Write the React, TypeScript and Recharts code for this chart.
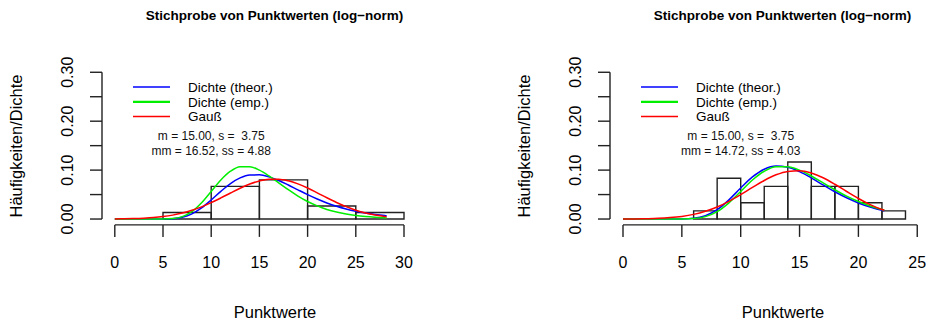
import React from 'react'
import { ComposedChart, Line, XAxis, YAxis, ReferenceArea, ReferenceLine } from 'recharts'

// two histograms of the same sample, each with the same three curves on top

const title = 'Stichprobe von Punktwerten (log−norm)'
const xTitle = 'Punktwerte'
const yTitle = 'Häufigkeiten/Dichte'
const legendNames = ['Dichte (theor.)', 'Dichte (emp.)', 'Gauß']
const legendColors = ['#0000ff', '#00ee00', '#ff0000']

const yTicks = [0, 0.05, 0.1, 0.15, 0.2, 0.25, 0.3]
// R drops every second label, they would overlap
const yLabelled = [0, 0.1, 0.2, 0.3]
const yTickLabels = ['0.00', '0.10', '0.20', '0.30']

// left panel: bins of width 5
const leftBreaks = [5, 10, 15, 20, 25, 30]
const leftDensity = [0.0133, 0.0667, 0.08, 0.0267, 0.0133]
const leftXTicks = [0, 5, 10, 15, 20, 25, 30]
const leftStats = ['m = 15.00, s =  3.75', 'mm = 16.52, ss = 4.88']
const leftCurveX = [0, 1, 2, 3, 4, 5, 6, 7, 8, 9, 10, 11, 12, 13, 14, 15, 16, 17, 18, 19, 20, 21, 22, 23, 24, 25, 26, 27, 28, 28.2]
const leftTheor = [0, 0, 0, 0, 0, 0.0001, 0.0008, 0.0037, 0.0106, 0.0227, 0.0389, 0.0566, 0.0725, 0.084, 0.0899, 0.0903, 0.0862, 0.0788, 0.0695, 0.0596, 0.0499, 0.0409, 0.0329, 0.0261, 0.0205, 0.0159, 0.0122, 0.0094, 0.0071, 0.0067]
const leftEmp = [0, 0, 0, 0, 0, 0.0001, 0.001, 0.0049, 0.0151, 0.0331, 0.0564, 0.0798, 0.0977, 0.1069, 0.107, 0.0999, 0.088, 0.074, 0.0599, 0.0469, 0.0358, 0.0268, 0.0196, 0.0142, 0.0101, 0.0071, 0.005, 0.0035, 0.0024, 0.0022]
const leftGauss = [0.0003, 0.0005, 0.001, 0.0018, 0.003, 0.005, 0.008, 0.0122, 0.0178, 0.0249, 0.0335, 0.0431, 0.0532, 0.063, 0.0715, 0.0779, 0.0813, 0.0814, 0.0781, 0.0718, 0.0634, 0.0536, 0.0435, 0.0339, 0.0253, 0.0181, 0.0124, 0.0081, 0.0051, 0.0047]

// right panel: bins of width 2
const rightBreaks = [6, 8, 10, 12, 14, 16, 18, 20, 22, 24]
const rightDensity = [0.0167, 0.0833, 0.0333, 0.0667, 0.1167, 0.0667, 0.0667, 0.0333, 0.0167]
const rightXTicks = [0, 5, 10, 15, 20, 25]
const rightStats = ['m = 15.00, s =  3.75', 'mm = 14.72, ss = 4.03']
const rightCurveX = [0, 1, 2, 3, 4, 5, 6, 7, 8, 9, 10, 11, 12, 13, 14, 15, 16, 17, 18, 19, 20, 21, 22, 22.2]
const rightTheor = [0, 0, 0, 0, 0, 0.0002, 0.0015, 0.0067, 0.019, 0.0392, 0.0634, 0.086, 0.1017, 0.1082, 0.1059, 0.0969, 0.084, 0.0697, 0.0558, 0.0434, 0.0329, 0.0245, 0.0179, 0.0169]
const rightEmp = [0, 0, 0, 0, 0, 0.0001, 0.001, 0.0049, 0.0151, 0.0331, 0.0564, 0.0798, 0.0977, 0.1069, 0.107, 0.0999, 0.088, 0.074, 0.0599, 0.0469, 0.0358, 0.0268, 0.0196, 0.0185]
const rightGauss = [0.0001, 0.0003, 0.0007, 0.0014, 0.0029, 0.0054, 0.0095, 0.0158, 0.0246, 0.0362, 0.0499, 0.0646, 0.0788, 0.0904, 0.0974, 0.0988, 0.0941, 0.0844, 0.0711, 0.0563, 0.042, 0.0294, 0.0194, 0.0179]

const FONT = '"Liberation Sans", Arial, Helvetica, sans-serif'
const INK = '#222'
const H = 321
const PLOT_TOP = 66.4
const PLOT_BOT = 224.9
const Y_DOMAIN: [number, number] = [-0.012, 0.312]

type PanelSpec = {
  left: number
  width: number
  axisX: number // page x of the y axis line
  zeroX: number // page x of 0 on the x axis
  unit: number // px per x unit
  breaks: number[]
  density: number[]
  xTicks: number[]
  stats: string[]
  curveX: number[]
  theor: number[]
  emp: number[]
  gauss: number[]
}

function YTick(props: any) {
  const { x, y, payload } = props
  const i = yLabelled.findIndex((t) => Math.abs(t - payload.value) < 1e-9)
  if (i < 0) return <g />
  return (
    <text
      transform={`translate(${x - 21},${y}) rotate(-90)`}
      textAnchor="middle"
      dy="0.36em"
      fontSize={16}
      fontFamily={FONT}
      fill="#000"
    >
      {yTickLabels[i]}
    </text>
  )
}

function Panel({ p }: { p: PanelSpec }) {
  const plotLeft = p.axisX - p.left
  const xMin = -(p.zeroX - p.axisX) / p.unit
  const xMax = (p.left + p.width - p.zeroX) / p.unit
  const curve = (ys: number[]) => p.curveX.map((x, i) => ({ x, y: ys[i] }))
  const series = [p.theor, p.emp, p.gauss]
  const ax = plotLeft // axis x inside this panel
  const statsX = p.zeroX - p.left + 10 * p.unit

  return (
    <div style={{ position: 'absolute', left: p.left, top: 0, width: p.width, height: H }}>
      <ComposedChart width={p.width} height={H} margin={{ top: PLOT_TOP, right: 0, bottom: 0, left: 0 }}>
        <XAxis
          type="number"
          dataKey="x"
          domain={[xMin, xMax]}
          allowDataOverflow
          ticks={p.xTicks}
          interval={0}
          height={H - PLOT_BOT}
          tickSize={12}
          tickMargin={20}
          axisLine={false}
          tickLine={{ stroke: INK, strokeWidth: 1.4 }}
          tick={{ fill: '#000', fontSize: 16, fontFamily: FONT }}
        />
        <YAxis
          type="number"
          domain={Y_DOMAIN}
          allowDataOverflow
          ticks={yTicks}
          interval={0}
          width={plotLeft}
          tickSize={12}
          axisLine={false}
          tickLine={{ stroke: INK, strokeWidth: 1.4 }}
          tick={(t: any) => <YTick {...t} />}
        />
        {/* R draws its axes only across the tick range */}
        <ReferenceLine
          segment={[{ x: xMin, y: 0 }, { x: xMin, y: 0.3 }]}
          stroke={INK}
          strokeWidth={1.4}
          ifOverflow="visible"
        />
        <ReferenceLine
          segment={[{ x: 0, y: Y_DOMAIN[0] }, { x: p.xTicks[p.xTicks.length - 1], y: Y_DOMAIN[0] }]}
          stroke={INK}
          strokeWidth={1.4}
          ifOverflow="visible"
        />
        {p.density.map((d, i) => (
          <ReferenceArea
            key={i}
            x1={p.breaks[i]}
            x2={p.breaks[i + 1]}
            y1={0}
            y2={d}
            fill="none"
            fillOpacity={0}
            stroke={INK}
            strokeWidth={1.4}
            strokeOpacity={1}
            ifOverflow="visible"
          />
        ))}
        {series.map((ys, i) => (
          <Line
            key={legendNames[i]}
            data={curve(ys)}
            dataKey="y"
            type="monotone"
            stroke={legendColors[i]}
            strokeWidth={1.5}
            dot={false}
            activeDot={false}
            isAnimationActive={false}
          />
        ))}
      </ComposedChart>
      <svg
        width={p.width}
        height={H}
        style={{ position: 'absolute', left: 0, top: 0, pointerEvents: 'none' }}
        fontFamily={FONT}
      >
        <text x={ax + 172.5} y={20.3} textAnchor="middle" fontSize={13.5} fontWeight="bold" fill="#000">
          {title}
        </text>
        <text x={ax + 173} y={317.5} textAnchor="middle" fontSize={16.5} fill="#000">
          {xTitle}
        </text>
        <text transform={`translate(${ax - 80},146) rotate(-90)`} textAnchor="middle" fontSize={16.5} fill="#000">
          {yTitle}
        </text>
        {legendNames.map((name, i) => {
          const y = 87 + i * 14.8
          return (
            <g key={name}>
              <line x1={ax + 31} x2={ax + 68} y1={y} y2={y} stroke={legendColors[i]} strokeWidth={i === 1 ? 2.2 : 1.5} />
              <text x={ax + 86} y={y} dy="0.35em" fontSize={13.5} fill="#000">
                {name}
              </text>
            </g>
          )
        })}
        {p.stats.map((s, i) => (
          <text
            key={s}
            x={statsX}
            y={135.9 + i * 14.7}
            dy="0.35em"
            textAnchor="middle"
            fontSize={12}
            fill="#111"
            style={{ whiteSpace: 'pre' }}
          >
            {s}
          </text>
        ))}
      </svg>
    </div>
  )
}

const leftPanel: PanelSpec = {
  left: 0,
  width: 463,
  axisX: 102,
  zeroX: 114.8,
  unit: 9.64,
  breaks: leftBreaks,
  density: leftDensity,
  xTicks: leftXTicks,
  stats: leftStats,
  curveX: leftCurveX,
  theor: leftTheor,
  emp: leftEmp,
  gauss: leftGauss,
}

const rightPanel: PanelSpec = {
  left: 463,
  width: 463,
  axisX: 610,
  zeroX: 623,
  unit: 11.77,
  breaks: rightBreaks,
  density: rightDensity,
  xTicks: rightXTicks,
  stats: rightStats,
  curveX: rightCurveX,
  theor: rightTheor,
  emp: rightEmp,
  gauss: rightGauss,
}

export default function App() {
  return (
    <div style={{ position: 'absolute', left: 0, top: 0, width: 926, height: H, background: '#fff', overflow: 'hidden' }}>
      <Panel p={leftPanel} />
      <Panel p={rightPanel} />
    </div>
  )
}
